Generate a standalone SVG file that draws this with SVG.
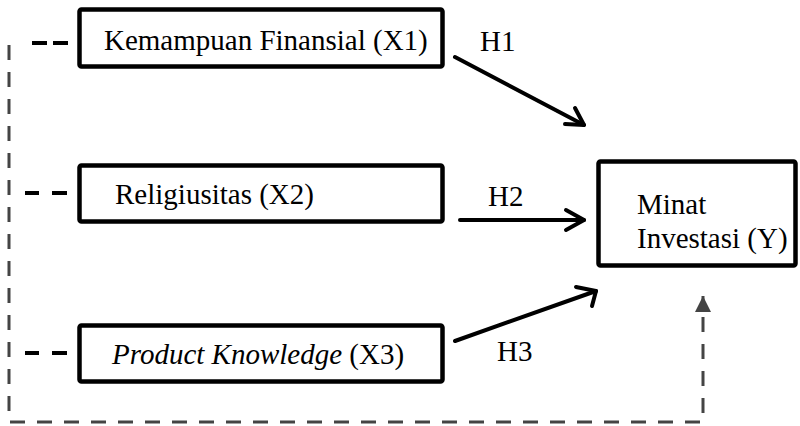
<svg xmlns="http://www.w3.org/2000/svg" width="800" height="426" viewBox="0 0 800 426">
<style>
.box{fill:#fff;stroke:#000;stroke-width:4.5}
.t{font-family:"Liberation Serif","Times New Roman",serif;font-size:29px;fill:#000}
.arrow{fill:none;stroke:#000;stroke-width:4;stroke-linecap:round;stroke-linejoin:round}
.bd{fill:none;stroke:#000;stroke-width:4}
.gd{fill:none;stroke:#444;stroke-width:3;stroke-dasharray:15 12}
</style>
<defs>
<marker id="tri" viewBox="0 0 10 10" refX="10" refY="5" markerWidth="16" markerHeight="16" markerUnits="userSpaceOnUse" orient="auto">
<path d="M0,0 L10,5 L0,10 Z" fill="#444"/>
</marker>
</defs>
<g id="connectors">
<path class="gd" d="M9,45 V422 H703 V300"/>
<path d="M703,310 V296" stroke="#444" stroke-width="3" marker-end="url(#tri)"/>
<path class="bd" d="M32,43 H47 M53,43 H68"/>
<path class="bd" d="M25,193 H39 M52,193 H67"/>
<path class="bd" d="M25,353 H39 M52,353 H67"/>
<g class="arrow">
<path d="M455,57 L584,125"/>
<path d="M575,108 L584,125 L565,124"/>
<path d="M460,220 L584,220"/>
<path d="M566,210 L584,220 L566,230"/>
<path d="M455,341 L596,291"/>
<path d="M576,287 L596,291 L592,306"/>
</g>
<text class="t" x="480" y="51">H1</text>
<text class="t" x="488" y="206">H2</text>
<text class="t" x="497" y="361">H3</text>
</g>
<g id="x1">
<rect class="box" x="79.5" y="9.5" width="363" height="57" rx="2"/>
<text class="t" x="104" y="50">Kemampuan Finansial (X1)</text>
</g>
<g id="x2">
<rect class="box" x="79.5" y="165.5" width="363" height="56" rx="2"/>
<text class="t" x="115" y="204">Religiusitas (X2)</text>
</g>
<g id="x3">
<rect class="box" x="79.5" y="325.5" width="363" height="56" rx="2"/>
<text class="t" x="112" y="364"><tspan font-style="italic">Product Knowledge</tspan> (X3)</text>
</g>
<g id="y">
<rect class="box" x="598.5" y="161.5" width="197" height="104" rx="2"/>
<text class="t" x="637" y="214">Minat</text>
<text class="t" x="637" y="248">Investasi (Y)</text>
</g>
</svg>
